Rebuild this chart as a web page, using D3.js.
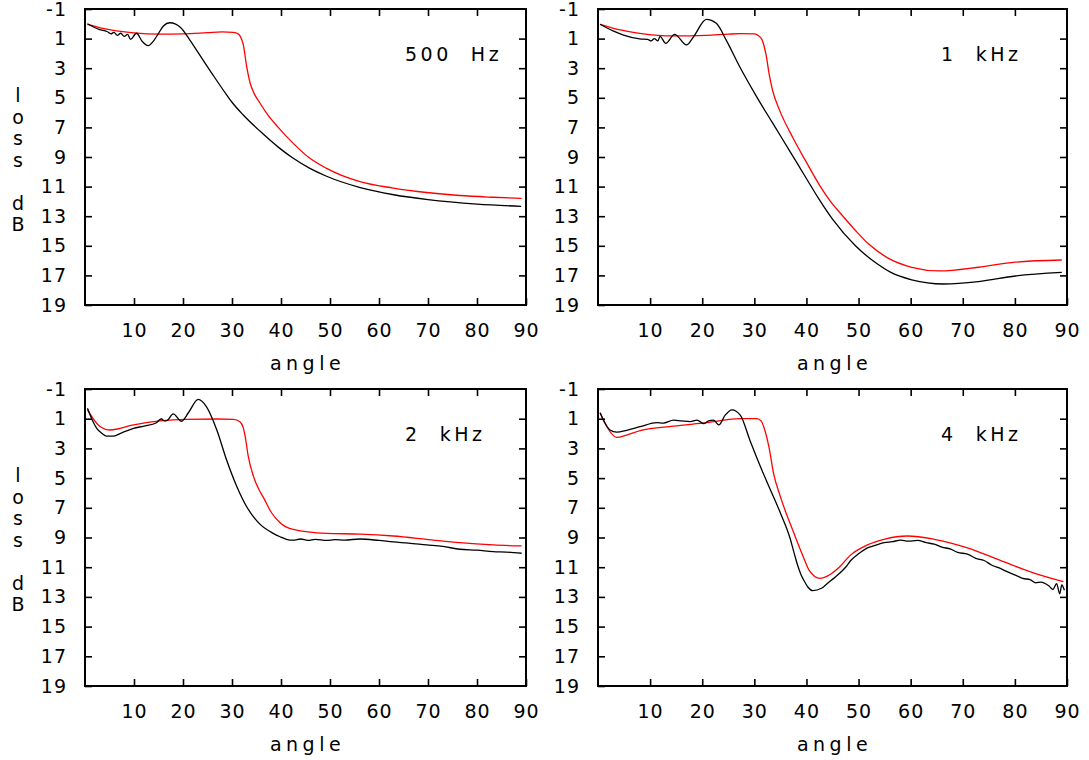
<!DOCTYPE html>
<html>
<head>
<meta charset="utf-8">
<script src="https://cdn.jsdelivr.net/npm/d3@7"></script>
<style>
  html, body { margin: 0; padding: 0; background: #fff; }
  svg { display: block; }
  text { font-family: "DejaVu Sans", sans-serif; fill: #000; }
</style>
</head>
<body>
<svg id="chart" width="1089" height="760"></svg>
<script>
// ---------------- data ----------------
const angleTicks = [10, 20, 30, 40, 50, 60, 70, 80, 90];
const lossTicks = [-1, 1, 3, 5, 7, 9, 11, 13, 15, 17, 19];
const panelLabels = ["500  Hz", "1  kHz", "2  kHz", "4  kHz"];
const yTitleChars = ["l", "o", "s", "s", " ", "d", "B"];
const xTitle = "angle";

// [angle, loss dB]
const measured500 = [[0.5,0.0],[3,0.4],[4.5,0.52],[5.3,0.68],[5.9,0.58],[6.6,0.78],[7.3,0.64],[8,0.85],[8.7,0.72],[9.3,1.05],[10.5,0.64],[11.7,1.2],[12.9,1.48],[14,1.15],[15,0.65],[16,0.15],[17.3,-0.07],[18.5,0.02],[19.5,0.25],[21.4,1.1],[23.5,2.15],[26.2,3.5],[28.9,4.8],[30,5.3],[32.3,6.16],[35.7,7.25],[39.5,8.35],[42.5,9.09],[45.9,9.77],[49.3,10.3],[56,11.05],[63,11.55],[70,11.88],[80,12.18],[89,12.33]];
const model500 = [[0.5,0.03],[5,0.4],[10,0.62],[15,0.7],[20,0.68],[25,0.6],[28,0.55],[30.2,0.58],[31.0,0.64],[31.6,0.8],[32.3,1.4],[33,2.9],[33.7,4.0],[34.5,4.7],[35.7,5.35],[37.2,6.1],[39.3,6.95],[42.5,8.08],[45.9,9.09],[49.3,9.77],[56.1,10.67],[62.9,11.1],[69.7,11.4],[76.5,11.6],[83.3,11.72],[89.1,11.8]];

const measured1k = [[0.4,0.03],[3,0.5],[4.9,0.76],[8,1.02],[9.5,1.05],[10.2,1.15],[10.8,1.0],[11.5,1.15],[11.9,0.85],[13,1.32],[14.7,0.71],[17,1.43],[18.3,0.9],[20.8,-0.3],[22.7,-0.03],[24.6,1.1],[27.2,2.9],[30.4,4.9],[33.5,6.7],[36.8,8.6],[39.9,10.4],[42.5,11.9],[45,13.2],[49.4,15.0],[53.5,16.2],[56.2,16.8],[60.2,17.3],[66.3,17.58],[73,17.42],[80.1,17.04],[89,16.8]];
const model1k = [[0.4,0.03],[4,0.4],[8,0.64],[14.4,0.82],[20.8,0.78],[25,0.7],[27.2,0.67],[30,0.68],[30.8,0.8],[31.5,1.1],[32.2,2.0],[32.9,3.5],[33.5,4.5],[34.8,5.8],[37.4,7.7],[39.9,9.3],[42.5,10.9],[44.5,11.95],[47,13.0],[49.5,14.0],[52,14.9],[55.5,15.8],[60.2,16.45],[65.6,16.7],[73,16.45],[80.1,16.1],[89,15.96]];

const measured2k = [[0.5,0.3],[1.5,1.1],[2.4,1.65],[3.5,2.0],[4.4,2.17],[5.8,2.17],[7.5,1.95],[9.9,1.65],[12,1.5],[14.6,1.27],[15.1,1.1],[15.6,1.02],[16.2,1.15],[16.7,1.13],[18,0.68],[19.7,1.17],[21.1,0.6],[23.1,-0.3],[24.8,0.2],[26.9,1.76],[28.9,3.78],[31,5.58],[33,6.93],[35.7,8.1],[38.4,8.72],[39.8,8.95],[41.1,9.12],[42.5,9.18],[44,9.1],[45.5,9.2],[47,9.12],[49.3,9.2],[51,9.14],[53,9.17],[56.1,9.1],[60,9.2],[62.9,9.3],[66,9.38],[69.7,9.5],[73,9.6],[76.5,9.79],[80,9.85],[83.3,9.95],[86,9.98],[89.1,10.06]];
const model2k = [[0.5,0.41],[3.1,1.54],[5.1,1.76],[9.9,1.42],[15.3,1.15],[20.8,1.04],[26.9,1.02],[30.3,1.04],[31.6,1.2],[32.3,1.6],[32.7,2.2],[33.3,3.5],[34.4,4.9],[35.7,5.9],[36.4,6.3],[38,7.3],[39.8,8.0],[42.5,8.45],[49.3,8.72],[56.1,8.77],[62.9,8.9],[69.7,9.12],[76.5,9.35],[83.3,9.5],[89.1,9.57]];

const measured4k = [[0.4,0.6],[1.2,1.2],[2.3,1.76],[3.6,1.9],[5.5,1.78],[8.1,1.54],[11.3,1.27],[12.5,1.3],[14.5,1.1],[16,1.15],[17.7,1.2],[19,1.1],[20.3,1.33],[21.2,1.15],[22.2,1.1],[23.2,1.42],[24.4,0.76],[25.7,0.4],[27.3,0.76],[29.2,2.5],[31.2,4.25],[33.1,5.8],[35,7.35],[36.9,9.1],[37.6,10.0],[38.2,10.75],[38.9,11.45],[39.6,11.95],[40.3,12.35],[41.2,12.58],[42.9,12.42],[44,12.1],[45.6,11.64],[47.6,10.97],[48.5,10.55],[50,10.1],[51.7,9.7],[53,9.55],[54.9,9.35],[56.5,9.28],[58.1,9.18],[59.5,9.25],[61.3,9.2],[63,9.35],[64.5,9.45],[66,9.65],[67.7,9.78],[69,10.0],[70.9,10.12],[72.5,10.4],[74.1,10.55],[75.5,10.85],[77.3,11.1],[78.5,11.3],[80.5,11.6],[81.5,11.75],[83,11.85],[84,12.05],[85,12.0],[86.5,12.25],[87.3,12.5],[88,12.1],[88.6,12.8],[89,12.2],[89.5,12.55]];
const model4k = [[0.4,0.6],[1.7,1.54],[3.6,2.26],[5.5,2.1],[8.1,1.8],[14.5,1.5],[20.9,1.27],[27.3,0.99],[30.5,0.99],[31.3,1.15],[31.8,1.54],[32.8,2.9],[33.7,4.7],[35,6.25],[37.6,8.72],[39.5,10.4],[40.5,11.2],[42.6,11.75],[44,11.6],[46.3,11.0],[48.5,10.17],[51.7,9.5],[54.9,9.12],[59.4,8.9],[64.5,9.12],[70.9,9.7],[77.3,10.56],[83.7,11.4],[89.3,11.98]];

const measuredSeries = [measured500, measured1k, measured2k, measured4k];
const modelSeries = [model500, model1k, model2k, model4k];

// ---------------- layout ----------------
const panels = [
  { x0: 85,  x1: 526,  y0: 9,   y1: 305, titleX: 18, labelX: 405 },
  { x0: 598, x1: 1067, y0: 9,   y1: 305, titleX: null, labelX: 941 },
  { x0: 85,  x1: 526,  y0: 389, y1: 686, titleX: 18, labelX: 405 },
  { x0: 598, x1: 1067, y0: 389, y1: 686, titleX: null, labelX: 941 }
];
const FONT = 19;

const svg = d3.select("#chart");

panels.forEach((p, i) => {
  const x = d3.scaleLinear().domain([0, 90]).range([p.x0, p.x1]);
  const y = d3.scaleLinear().domain([-1, 19]).range([p.y0, p.y1]);
  const g = svg.append("g");

  // curves
  const line = d3.line().x(d => x(d[0])).y(d => y(d[1])).curve(d3.curveMonotoneX);
  g.append("path").datum(modelSeries[i])
    .attr("d", line).attr("fill", "none").attr("stroke", "#ff0000").attr("stroke-width", 1.3);
  g.append("path").datum(measuredSeries[i])
    .attr("d", line).attr("fill", "none").attr("stroke", "#000").attr("stroke-width", 1.3);

  // axes (inward ticks)
  const left = d3.axisLeft(y).tickValues(lossTicks).tickSizeInner(-7).tickSizeOuter(0).tickPadding(18)
    .tickFormat(d => d < 0 ? "-" + Math.abs(d) : String(d));
  const gl = g.append("g").attr("transform", `translate(${p.x0},0)`).call(left);

  const right = d3.axisRight(y).tickValues(lossTicks.slice(1, -1)).tickSizeInner(-7).tickSizeOuter(0).tickFormat("");
  const gr = g.append("g").attr("transform", `translate(${p.x1},0)`).call(right);

  const bottom = d3.axisBottom(x).tickValues(angleTicks).tickSizeInner(-7).tickSizeOuter(0).tickPadding(18.5)
    .tickFormat(d3.format("d"));
  const gb = g.append("g").attr("transform", `translate(0,${p.y1})`).call(bottom);

  const top = d3.axisTop(x).tickValues(angleTicks.slice(0, -1)).tickSizeInner(-7).tickSizeOuter(0).tickFormat("");
  const gt = g.append("g").attr("transform", `translate(0,${p.y0})`).call(top);

  [gl, gr, gb, gt].forEach(a => {
    a.select(".domain").remove();
    a.selectAll(".tick line").attr("stroke", "#000").attr("stroke-width", 1.6);
    a.selectAll(".tick text").attr("font-family", "DejaVu Sans, sans-serif")
      .attr("font-size", FONT).attr("fill", "#000").style("letter-spacing", "1px");
  });
  gl.selectAll(".tick text").style("word-spacing", "2px");

  // frame
  g.append("rect").attr("x", p.x0).attr("y", p.y0)
    .attr("width", p.x1 - p.x0).attr("height", p.y1 - p.y0)
    .attr("fill", "none").attr("stroke", "#000").attr("stroke-width", 2);

  // panel label
  g.append("text").attr("x", p.labelX).attr("y", p.y0 + 52)
    .attr("font-size", FONT).style("letter-spacing", "3.5px").style("white-space", "pre")
    .attr("xml:space", "preserve")
    .text(panelLabels[i]);

  // x title
  g.append("text").attr("x", (p.x0 + p.x1) / 2 + 2).attr("y", p.y1 + 65)
    .attr("text-anchor", "middle").attr("font-size", FONT).style("letter-spacing", "4.5px")
    .text(xTitle);

  // y title (vertical stacked characters)
  if (p.titleX !== null) {
    const t = g.append("text").attr("font-size", FONT).attr("text-anchor", "middle");
    yTitleChars.forEach((c, k) => {
      t.append("tspan").attr("x", p.titleX).attr("y", p.y0 + 93 + k * 21.5).text(c === " " ? "\u00a0" : c);
    });
  }
});
</script>
</body>
</html>
